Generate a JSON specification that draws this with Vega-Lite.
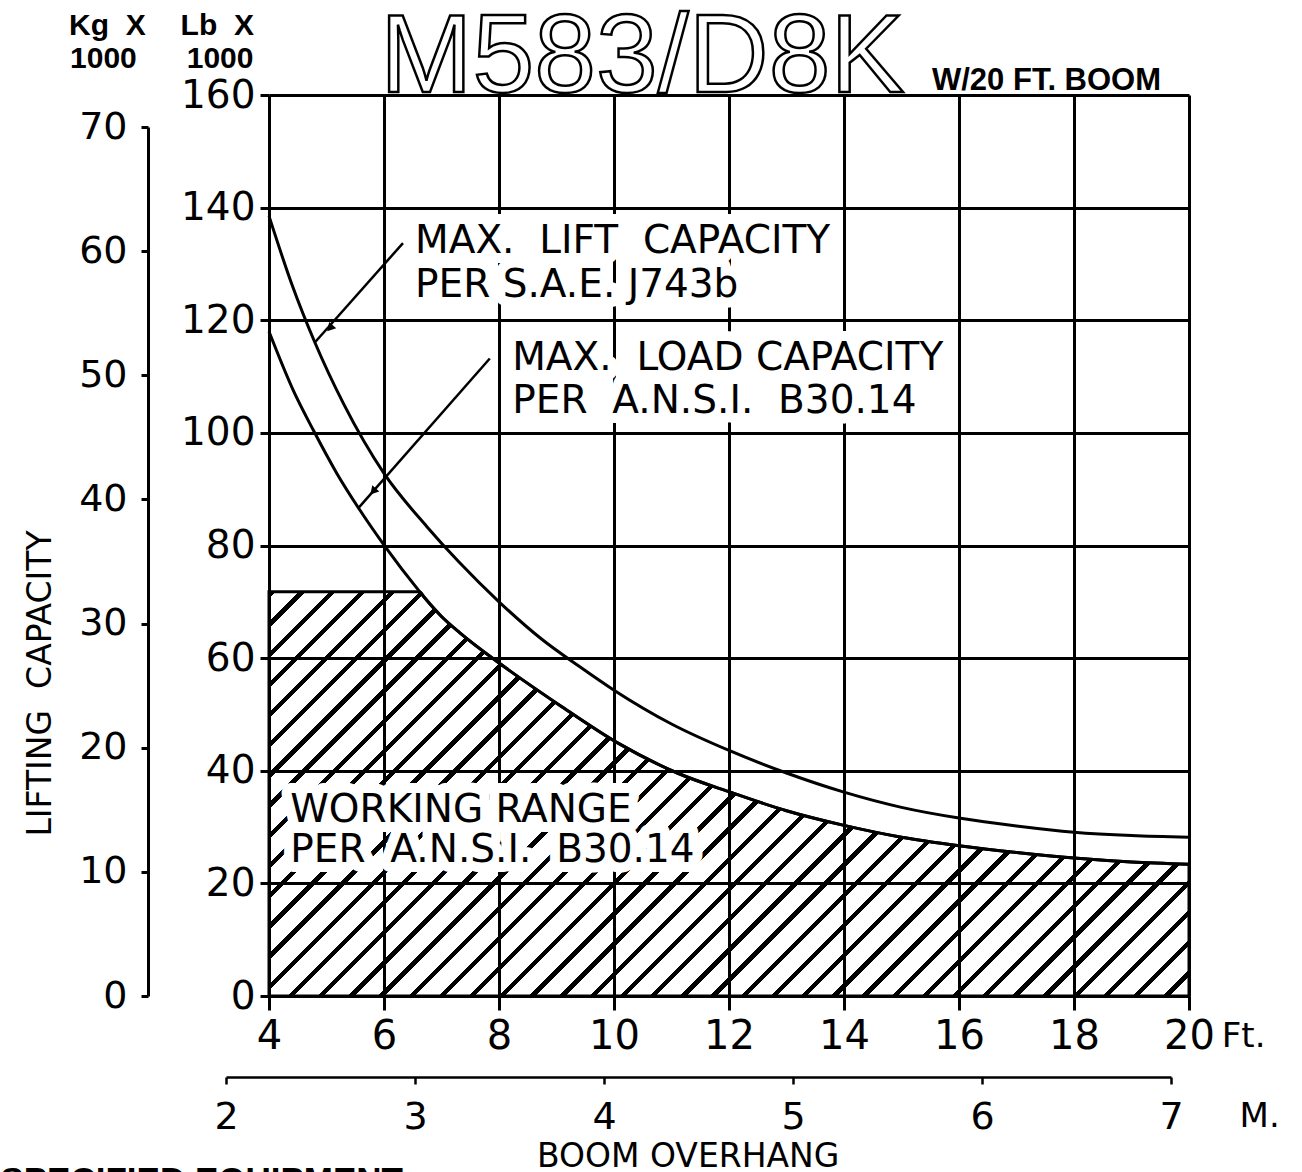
{
  "$schema": "https://vega.github.io/schema/vega-lite/v6.json",
  "width": 920,
  "height": 901,
  "autosize": {"type": "none"},
  "padding": {"left": 269, "top": 95, "right": 113, "bottom": 176},
  "background": "white",
  "config": {"view": {"stroke": null}},
  "datasets": {
    "upper": [
      {"ft": 4, "lb": 138.5}, {"ft": 4.4, "lb": 126.3}, {"ft": 4.8, "lb": 116.0}, {"ft": 5.3, "lb": 105.1},
      {"ft": 6, "lb": 92.8}, {"ft": 6.75, "lb": 83.3}, {"ft": 7.3, "lb": 77.1}, {"ft": 8, "lb": 70.0},
      {"ft": 8.75, "lb": 63.3}, {"ft": 9.4, "lb": 58.5}, {"ft": 10, "lb": 54.3}, {"ft": 11, "lb": 48.3},
      {"ft": 12, "lb": 43.6}, {"ft": 13, "lb": 39.6}, {"ft": 14, "lb": 36.2}, {"ft": 15, "lb": 33.5},
      {"ft": 16, "lb": 31.6}, {"ft": 17, "lb": 30.2}, {"ft": 18, "lb": 29.1}, {"ft": 19, "lb": 28.5},
      {"ft": 20, "lb": 28.2}
    ],
    "lower": [
      {"ft": 4, "lb": 118.0}, {"ft": 4.42, "lb": 107.6}, {"ft": 4.77, "lb": 100.5}, {"ft": 5.18, "lb": 92.8},
      {"ft": 5.58, "lb": 86.3}, {"ft": 6.02, "lb": 79.8}, {"ft": 6.62, "lb": 71.8}, {"ft": 6.7, "lb": 70.8},
      {"ft": 7, "lb": 67.4}, {"ft": 7.32, "lb": 64.5}, {"ft": 8.02, "lb": 59.0}, {"ft": 9.06, "lb": 51.6},
      {"ft": 10.07, "lb": 44.9}, {"ft": 11.1, "lb": 39.6}, {"ft": 12.05, "lb": 36.1}, {"ft": 13, "lb": 32.9},
      {"ft": 14, "lb": 30.3}, {"ft": 15, "lb": 28.2}, {"ft": 16, "lb": 26.7}, {"ft": 17, "lb": 25.5},
      {"ft": 18, "lb": 24.5}, {"ft": 19, "lb": 23.8}, {"ft": 20, "lb": 23.4}
    ],
    "working": [
      {"ft": 4, "lb": 71.8}, {"ft": 6.62, "lb": 71.8}, {"ft": 6.7, "lb": 70.8},
      {"ft": 7, "lb": 67.4}, {"ft": 7.32, "lb": 64.5}, {"ft": 8.02, "lb": 59.0}, {"ft": 9.06, "lb": 51.6},
      {"ft": 10.07, "lb": 44.9}, {"ft": 11.1, "lb": 39.6}, {"ft": 12.05, "lb": 36.1}, {"ft": 13, "lb": 32.9},
      {"ft": 14, "lb": 30.3}, {"ft": 15, "lb": 28.2}, {"ft": 16, "lb": 26.7}, {"ft": 17, "lb": 25.5},
      {"ft": 18, "lb": 24.5}, {"ft": 19, "lb": 23.8}, {"ft": 20, "lb": 23.4}
    ],
    "leaders": [
      {"ft": 6.33, "lb": 133.7, "ft2": 4.80, "lb2": 116.1},
      {"ft": 7.84, "lb": 113.2, "ft2": 5.55, "lb2": 86.6}
    ],
    "arrows": [
      {"ft": 5.06, "lb": 118.6},
      {"ft": 5.81, "lb": 89.6}
    ],
    "notes": [
      {"ft": 6.54, "lb": 131.9, "t": "MAX.\u00a0\u00a0LIFT\u00a0\u00a0CAPACITY"},
      {"ft": 6.54, "lb": 124.1, "t": "PER S.A.E. J743b"},
      {"ft": 8.23, "lb": 111.2, "t": "MAX.\u00a0\u00a0LOAD CAPACITY"},
      {"ft": 8.23, "lb": 103.5, "t": "PER\u00a0\u00a0A.N.S.I.\u00a0\u00a0B30.14"},
      {"ft": 4.37, "lb": 30.9, "t": "WORKING RANGE"},
      {"ft": 4.37, "lb": 23.8, "t": "PER\u00a0\u00a0A.N.S.I.\u00a0\u00a0B30.14"}
    ]
  },
  "layer": [
    {
      "layer": [
        {
          "data": {"name": "working"},
          "mark": {
            "type": "area",
            "interpolate": "monotone",
            "stroke": "black",
            "strokeWidth": 3,
            "fill": {
              "gradient": "linear", "x1": 0, "y1": 0, "x2": 1.21, "y2": 0.5318,
              "stops": [
                {"offset": 0, "color": "#000"}, {"offset": 0.0048, "color": "#000"}, {"offset": 0.0048, "color": "rgba(255,255,255,0)"}, {"offset": 0.022727, "color": "rgba(255,255,255,0)"},
                {"offset": 0.022727, "color": "#000"}, {"offset": 0.027527, "color": "#000"}, {"offset": 0.027527, "color": "rgba(255,255,255,0)"}, {"offset": 0.045455, "color": "rgba(255,255,255,0)"},
                {"offset": 0.045455, "color": "#000"}, {"offset": 0.050255, "color": "#000"}, {"offset": 0.050255, "color": "rgba(255,255,255,0)"}, {"offset": 0.068182, "color": "rgba(255,255,255,0)"},
                {"offset": 0.068182, "color": "#000"}, {"offset": 0.072982, "color": "#000"}, {"offset": 0.072982, "color": "rgba(255,255,255,0)"}, {"offset": 0.090909, "color": "rgba(255,255,255,0)"},
                {"offset": 0.090909, "color": "#000"}, {"offset": 0.095709, "color": "#000"}, {"offset": 0.095709, "color": "rgba(255,255,255,0)"}, {"offset": 0.113636, "color": "rgba(255,255,255,0)"},
                {"offset": 0.113636, "color": "#000"}, {"offset": 0.118436, "color": "#000"}, {"offset": 0.118436, "color": "rgba(255,255,255,0)"}, {"offset": 0.136364, "color": "rgba(255,255,255,0)"},
                {"offset": 0.136364, "color": "#000"}, {"offset": 0.141164, "color": "#000"}, {"offset": 0.141164, "color": "rgba(255,255,255,0)"}, {"offset": 0.159091, "color": "rgba(255,255,255,0)"},
                {"offset": 0.159091, "color": "#000"}, {"offset": 0.163891, "color": "#000"}, {"offset": 0.163891, "color": "rgba(255,255,255,0)"}, {"offset": 0.181818, "color": "rgba(255,255,255,0)"},
                {"offset": 0.181818, "color": "#000"}, {"offset": 0.186618, "color": "#000"}, {"offset": 0.186618, "color": "rgba(255,255,255,0)"}, {"offset": 0.204545, "color": "rgba(255,255,255,0)"},
                {"offset": 0.204545, "color": "#000"}, {"offset": 0.209345, "color": "#000"}, {"offset": 0.209345, "color": "rgba(255,255,255,0)"}, {"offset": 0.227273, "color": "rgba(255,255,255,0)"},
                {"offset": 0.227273, "color": "#000"}, {"offset": 0.232073, "color": "#000"}, {"offset": 0.232073, "color": "rgba(255,255,255,0)"}, {"offset": 0.25, "color": "rgba(255,255,255,0)"},
                {"offset": 0.25, "color": "#000"}, {"offset": 0.2548, "color": "#000"}, {"offset": 0.2548, "color": "rgba(255,255,255,0)"}, {"offset": 0.272727, "color": "rgba(255,255,255,0)"},
                {"offset": 0.272727, "color": "#000"}, {"offset": 0.277527, "color": "#000"}, {"offset": 0.277527, "color": "rgba(255,255,255,0)"}, {"offset": 0.295455, "color": "rgba(255,255,255,0)"},
                {"offset": 0.295455, "color": "#000"}, {"offset": 0.300255, "color": "#000"}, {"offset": 0.300255, "color": "rgba(255,255,255,0)"}, {"offset": 0.318182, "color": "rgba(255,255,255,0)"},
                {"offset": 0.318182, "color": "#000"}, {"offset": 0.322982, "color": "#000"}, {"offset": 0.322982, "color": "rgba(255,255,255,0)"}, {"offset": 0.340909, "color": "rgba(255,255,255,0)"},
                {"offset": 0.340909, "color": "#000"}, {"offset": 0.345709, "color": "#000"}, {"offset": 0.345709, "color": "rgba(255,255,255,0)"}, {"offset": 0.363636, "color": "rgba(255,255,255,0)"},
                {"offset": 0.363636, "color": "#000"}, {"offset": 0.368436, "color": "#000"}, {"offset": 0.368436, "color": "rgba(255,255,255,0)"}, {"offset": 0.386364, "color": "rgba(255,255,255,0)"},
                {"offset": 0.386364, "color": "#000"}, {"offset": 0.391164, "color": "#000"}, {"offset": 0.391164, "color": "rgba(255,255,255,0)"}, {"offset": 0.409091, "color": "rgba(255,255,255,0)"},
                {"offset": 0.409091, "color": "#000"}, {"offset": 0.413891, "color": "#000"}, {"offset": 0.413891, "color": "rgba(255,255,255,0)"}, {"offset": 0.431818, "color": "rgba(255,255,255,0)"},
                {"offset": 0.431818, "color": "#000"}, {"offset": 0.436618, "color": "#000"}, {"offset": 0.436618, "color": "rgba(255,255,255,0)"}, {"offset": 0.454545, "color": "rgba(255,255,255,0)"},
                {"offset": 0.454545, "color": "#000"}, {"offset": 0.459345, "color": "#000"}, {"offset": 0.459345, "color": "rgba(255,255,255,0)"}, {"offset": 0.477273, "color": "rgba(255,255,255,0)"},
                {"offset": 0.477273, "color": "#000"}, {"offset": 0.482073, "color": "#000"}, {"offset": 0.482073, "color": "rgba(255,255,255,0)"}, {"offset": 0.5, "color": "rgba(255,255,255,0)"},
                {"offset": 0.5, "color": "#000"}, {"offset": 0.5048, "color": "#000"}, {"offset": 0.5048, "color": "rgba(255,255,255,0)"}, {"offset": 0.522727, "color": "rgba(255,255,255,0)"},
                {"offset": 0.522727, "color": "#000"}, {"offset": 0.527527, "color": "#000"}, {"offset": 0.527527, "color": "rgba(255,255,255,0)"}, {"offset": 0.545455, "color": "rgba(255,255,255,0)"},
                {"offset": 0.545455, "color": "#000"}, {"offset": 0.550255, "color": "#000"}, {"offset": 0.550255, "color": "rgba(255,255,255,0)"}, {"offset": 0.568182, "color": "rgba(255,255,255,0)"},
                {"offset": 0.568182, "color": "#000"}, {"offset": 0.572982, "color": "#000"}, {"offset": 0.572982, "color": "rgba(255,255,255,0)"}, {"offset": 0.590909, "color": "rgba(255,255,255,0)"},
                {"offset": 0.590909, "color": "#000"}, {"offset": 0.595709, "color": "#000"}, {"offset": 0.595709, "color": "rgba(255,255,255,0)"}, {"offset": 0.613636, "color": "rgba(255,255,255,0)"},
                {"offset": 0.613636, "color": "#000"}, {"offset": 0.618436, "color": "#000"}, {"offset": 0.618436, "color": "rgba(255,255,255,0)"}, {"offset": 0.636364, "color": "rgba(255,255,255,0)"},
                {"offset": 0.636364, "color": "#000"}, {"offset": 0.641164, "color": "#000"}, {"offset": 0.641164, "color": "rgba(255,255,255,0)"}, {"offset": 0.659091, "color": "rgba(255,255,255,0)"},
                {"offset": 0.659091, "color": "#000"}, {"offset": 0.663891, "color": "#000"}, {"offset": 0.663891, "color": "rgba(255,255,255,0)"}, {"offset": 0.681818, "color": "rgba(255,255,255,0)"},
                {"offset": 0.681818, "color": "#000"}, {"offset": 0.686618, "color": "#000"}, {"offset": 0.686618, "color": "rgba(255,255,255,0)"}, {"offset": 0.704545, "color": "rgba(255,255,255,0)"},
                {"offset": 0.704545, "color": "#000"}, {"offset": 0.709345, "color": "#000"}, {"offset": 0.709345, "color": "rgba(255,255,255,0)"}, {"offset": 0.727273, "color": "rgba(255,255,255,0)"},
                {"offset": 0.727273, "color": "#000"}, {"offset": 0.732073, "color": "#000"}, {"offset": 0.732073, "color": "rgba(255,255,255,0)"}, {"offset": 0.75, "color": "rgba(255,255,255,0)"},
                {"offset": 0.75, "color": "#000"}, {"offset": 0.7548, "color": "#000"}, {"offset": 0.7548, "color": "rgba(255,255,255,0)"}, {"offset": 0.772727, "color": "rgba(255,255,255,0)"},
                {"offset": 0.772727, "color": "#000"}, {"offset": 0.777527, "color": "#000"}, {"offset": 0.777527, "color": "rgba(255,255,255,0)"}, {"offset": 0.795455, "color": "rgba(255,255,255,0)"},
                {"offset": 0.795455, "color": "#000"}, {"offset": 0.800255, "color": "#000"}, {"offset": 0.800255, "color": "rgba(255,255,255,0)"}, {"offset": 0.818182, "color": "rgba(255,255,255,0)"},
                {"offset": 0.818182, "color": "#000"}, {"offset": 0.822982, "color": "#000"}, {"offset": 0.822982, "color": "rgba(255,255,255,0)"}, {"offset": 0.840909, "color": "rgba(255,255,255,0)"},
                {"offset": 0.840909, "color": "#000"}, {"offset": 0.845709, "color": "#000"}, {"offset": 0.845709, "color": "rgba(255,255,255,0)"}, {"offset": 0.863636, "color": "rgba(255,255,255,0)"},
                {"offset": 0.863636, "color": "#000"}, {"offset": 0.868436, "color": "#000"}, {"offset": 0.868436, "color": "rgba(255,255,255,0)"}, {"offset": 0.886364, "color": "rgba(255,255,255,0)"},
                {"offset": 0.886364, "color": "#000"}, {"offset": 0.891164, "color": "#000"}, {"offset": 0.891164, "color": "rgba(255,255,255,0)"}, {"offset": 0.909091, "color": "rgba(255,255,255,0)"},
                {"offset": 0.909091, "color": "#000"}, {"offset": 0.913891, "color": "#000"}, {"offset": 0.913891, "color": "rgba(255,255,255,0)"}, {"offset": 0.931818, "color": "rgba(255,255,255,0)"},
                {"offset": 0.931818, "color": "#000"}, {"offset": 0.936618, "color": "#000"}, {"offset": 0.936618, "color": "rgba(255,255,255,0)"}, {"offset": 0.954545, "color": "rgba(255,255,255,0)"},
                {"offset": 0.954545, "color": "#000"}, {"offset": 0.959345, "color": "#000"}, {"offset": 0.959345, "color": "rgba(255,255,255,0)"}, {"offset": 0.977273, "color": "rgba(255,255,255,0)"},
                {"offset": 0.977273, "color": "#000"}, {"offset": 0.982073, "color": "#000"}, {"offset": 0.982073, "color": "rgba(255,255,255,0)"}, {"offset": 1, "color": "rgba(255,255,255,0)"}
              ]
            }
          },
          "encoding": {
            "x": {
              "field": "ft", "type": "quantitative",
              "scale": {"domain": [4, 20], "nice": false, "zero": false},
              "axis": {
                "orient": "bottom", "values": [4, 6, 8, 10, 12, 14, 16, 18, 20], "format": "d", "title": null,
                "grid": true, "gridColor": "#000", "gridWidth": 3, "gridOpacity": 1,
                "domainColor": "#000", "domainWidth": 3, "tickColor": "#000", "tickWidth": 3, "tickSize": 14,
                "labelFont": "DejaVu Sans", "labelFontSize": 40, "labelColor": "#000", "labelPadding": 6,
                "labelFlush": false, "labelOverlap": false, "labelBound": false
              }
            },
            "y": {
              "field": "lb", "type": "quantitative",
              "scale": {"domain": [0, 160], "nice": false},
              "axis": {
                "orient": "left", "values": [0, 20, 40, 60, 80, 100, 120, 140, 160], "format": "d", "title": null,
                "grid": true, "gridColor": "#000", "gridWidth": 3, "gridOpacity": 1,
                "domainColor": "#000", "domainWidth": 3, "tickColor": "#000", "tickWidth": 3, "tickSize": 9,
                "labelFont": "DejaVu Sans", "labelFontSize": 39, "labelColor": "#000", "labelPadding": 5,
                "labelFlush": false, "labelOverlap": false, "labelBound": false
              }
            }
          }
        },
        {
          "data": {"name": "notes"},
          "mark": {"type": "text", "font": "DejaVu Sans", "fontSize": 39, "align": "left", "baseline": "alphabetic", "fill": "white", "stroke": "white", "strokeWidth": 20, "strokeJoin": "round"},
          "encoding": {
            "x": {"field": "ft", "type": "quantitative", "title": null},
            "y": {"field": "lb", "type": "quantitative", "title": null},
            "text": {"field": "t"}
          }
        },
        {
          "data": {"name": "notes"},
          "mark": {"type": "text", "font": "DejaVu Sans", "fontSize": 39, "align": "left", "baseline": "alphabetic", "fill": "black"},
          "encoding": {
            "x": {"field": "ft", "type": "quantitative", "title": null},
            "y": {"field": "lb", "type": "quantitative", "title": null},
            "text": {"field": "t"}
          }
        },
        {
          "data": {"name": "upper"},
          "mark": {"type": "line", "interpolate": "monotone", "color": "black", "strokeWidth": 3},
          "encoding": {
            "x": {"field": "ft", "type": "quantitative", "title": null},
            "y": {"field": "lb", "type": "quantitative", "title": null}
          }
        },
        {
          "data": {"name": "lower"},
          "mark": {"type": "line", "interpolate": "monotone", "color": "black", "strokeWidth": 3},
          "encoding": {
            "x": {"field": "ft", "type": "quantitative", "title": null},
            "y": {"field": "lb", "type": "quantitative", "title": null}
          }
        },
        {
          "data": {"name": "leaders"},
          "mark": {"type": "rule", "color": "black", "strokeWidth": 2.5},
          "encoding": {
            "x": {"field": "ft", "type": "quantitative", "title": null},
            "y": {"field": "lb", "type": "quantitative", "title": null},
            "x2": {"field": "ft2"},
            "y2": {"field": "lb2"}
          }
        },
        {
          "data": {"name": "arrows"},
          "mark": {"type": "point", "shape": "triangle-up", "filled": true, "color": "black", "opacity": 1, "size": 90, "angle": 222},
          "encoding": {
            "x": {"field": "ft", "type": "quantitative", "title": null},
            "y": {"field": "lb", "type": "quantitative", "title": null}
          }
        },
        {
          "data": {"values": [{"ft": 5.93, "lb": 160.5, "t": "M583/D8K"}]},
          "mark": {"type": "text", "font": "Liberation Sans", "fontSize": 111, "align": "left", "baseline": "alphabetic", "fill": "white", "stroke": "black", "strokeWidth": 2.5},
          "encoding": {
            "x": {"field": "ft", "type": "quantitative", "title": null},
            "y": {"field": "lb", "type": "quantitative", "title": null},
            "text": {"field": "t"}
          }
        },
        {
          "data": {"values": [{"ft": 15.53, "lb": 160.9, "t": "W/20 FT. BOOM"}]},
          "mark": {"type": "text", "font": "Liberation Sans", "fontSize": 31, "fontWeight": "bold", "align": "left", "baseline": "alphabetic", "fill": "black"},
          "encoding": {
            "x": {"field": "ft", "type": "quantitative", "title": null},
            "y": {"field": "lb", "type": "quantitative", "title": null},
            "text": {"field": "t"}
          }
        },
        {
          "data": {"values": [
            {"ft": 1.19, "lb": 170.7, "t": "Kg\u00a0\u00a0X"},
            {"ft": 1.12, "lb": 164.8, "t": "1000"},
            {"ft": 3.10, "lb": 170.7, "t": "Lb\u00a0\u00a0X"},
            {"ft": 3.15, "lb": 164.8, "t": "1000"}
          ]},
          "mark": {"type": "text", "font": "Liberation Sans", "fontSize": 30, "fontWeight": "bold", "align": "center", "baseline": "alphabetic", "fill": "black"},
          "encoding": {
            "x": {"field": "ft", "type": "quantitative", "title": null},
            "y": {"field": "lb", "type": "quantitative", "title": null},
            "text": {"field": "t"}
          }
        },
        {
          "data": {"values": [
            {"ft": 20.57, "lb": -9.1, "t": "Ft."},
            {"ft": 20.88, "lb": -23.3, "t": "M."}
          ]},
          "mark": {"type": "text", "font": "DejaVu Sans", "fontSize": 34, "align": "left", "baseline": "alphabetic", "fill": "black"},
          "encoding": {
            "x": {"field": "ft", "type": "quantitative", "title": null},
            "y": {"field": "lb", "type": "quantitative", "title": null},
            "text": {"field": "t"}
          }
        },
        {
          "data": {"values": [{"ft": 11.29, "lb": -30.4, "t": "BOOM OVERHANG"}]},
          "mark": {"type": "text", "font": "DejaVu Sans", "fontSize": 33, "align": "center", "baseline": "alphabetic", "fill": "black"},
          "encoding": {
            "x": {"field": "ft", "type": "quantitative", "title": null},
            "y": {"field": "lb", "type": "quantitative", "title": null},
            "text": {"field": "t"}
          }
        },
        {
          "data": {"values": [{"ft": 6.33, "lb": -34.8, "t": "SPECIFIED EQUIPMENT"}]},
          "mark": {"type": "text", "font": "Liberation Sans", "fontSize": 35, "fontWeight": "bold", "align": "right", "baseline": "alphabetic", "fill": "black"},
          "encoding": {
            "x": {"field": "ft", "type": "quantitative", "title": null},
            "y": {"field": "lb", "type": "quantitative", "title": null},
            "text": {"field": "t"}
          }
        }
      ]
    },
    {
      "data": {"values": [{"kg": 0}, {"kg": 70}]},
      "mark": {"type": "point", "opacity": 0},
      "encoding": {
        "y": {
          "field": "kg", "type": "quantitative",
          "scale": {"domain": [0, 70], "range": [901, 32], "nice": false},
          "axis": {
            "orient": "left", "offset": 121, "values": [0, 10, 20, 30, 40, 50, 60, 70], "format": "d",
            "title": "LIFTING\u00a0\u00a0CAPACITY", "titleFont": "DejaVu Sans", "titleFontSize": 33, "titleFontWeight": "normal",
            "titleColor": "#000", "titleAngle": -90, "titleX": -98, "titleY": 588, "titleAlign": "center", "titleBaseline": "alphabetic",
            "grid": false, "domainColor": "#000", "domainWidth": 3, "tickColor": "#000", "tickWidth": 3, "tickSize": 7,
            "labelFont": "DejaVu Sans", "labelFontSize": 38, "labelColor": "#000", "labelPadding": 14,
            "labelFlush": false, "labelOverlap": false, "labelBound": false
          }
        }
      }
    },
    {
      "data": {"values": [{"m": 2}, {"m": 7}]},
      "mark": {"type": "point", "opacity": 0},
      "encoding": {
        "x": {
          "field": "m", "type": "quantitative",
          "scale": {"domain": [2, 7], "range": [-43, 902], "nice": false, "zero": false},
          "axis": {
            "orient": "bottom", "offset": 81, "values": [2, 3, 4, 5, 6, 7], "format": "d", "title": null,
            "grid": false, "domainColor": "#000", "domainWidth": 2.5, "tickColor": "#000", "tickWidth": 2.5, "tickSize": 7,
            "labelFont": "DejaVu Sans", "labelFontSize": 38, "labelColor": "#000", "labelPadding": 14,
            "labelFlush": false, "labelOverlap": false, "labelBound": false
          }
        }
      }
    }
  ],
  "resolve": {
    "scale": {"x": "independent", "y": "independent"},
    "axis": {"x": "independent", "y": "independent"}
  }
}
